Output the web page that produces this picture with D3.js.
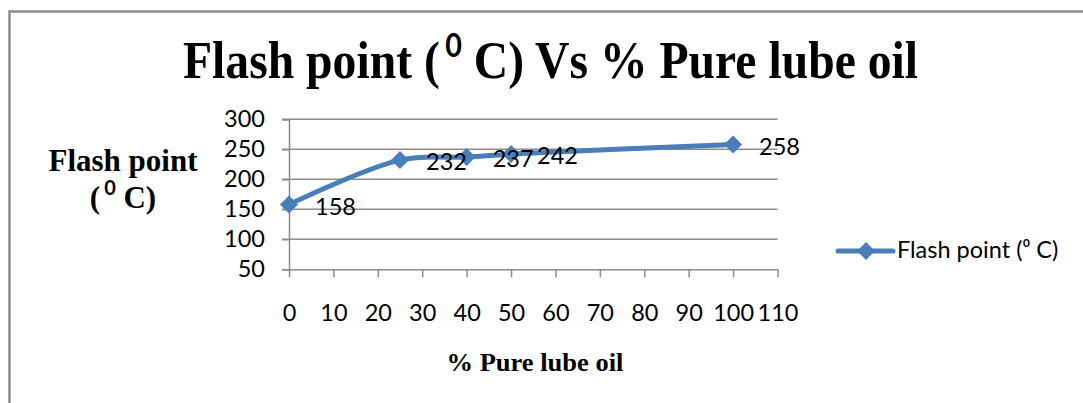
<!DOCTYPE html>
<html><head><meta charset="utf-8">
<script src="https://cdn.jsdelivr.net/npm/d3@7"></script>
<style>html,body{margin:0;padding:0;background:#fff;}svg{display:block;}</style>
</head><body>
<svg id="chart" width="1083" height="403"></svg>
<script>
const xValues = [0, 25, 40, 50, 100];
const flashPoint = [158, 232, 237, 242, 258];
const xTicks = [0, 10, 20, 30, 40, 50, 60, 70, 80, 90, 100, 110];
const yTicks = [50, 100, 150, 200, 250, 300];
const seriesName = "Flash point (\u2070 C)";

const svg = d3.select("#chart");
const blue = "#4a7ebb";
const grid = "#8c8c8c";
const sans = "Lato, 'Open Sans', sans-serif";
const serif = "'Liberation Serif', 'Times New Roman', serif";
const fs = 23.5;

// frame
svg.append("path").attr("d", "M9.5,403 V11.5 H1083").attr("fill", "none")
  .attr("stroke", "#8c8c8c").attr("stroke-width", 2.5);

const x = d3.scaleLinear().domain([0, 110]).range([289, 777.5]);
const y = d3.scaleLinear().domain([50, 300]).range([269.3, 119.3]);

// title
const t = svg.append("text").attr("x", 183).attr("y", 78)
  .attr("font-family", serif).attr("font-weight", "bold").attr("font-size", 53)
  .attr("textLength", 735).attr("lengthAdjust", "spacingAndGlyphs");
t.append("tspan").text("Flash point (");
t.append("tspan").attr("font-family", sans).attr("font-size", 32).attr("dx", 6).attr("dy", -21).text("0");
t.append("tspan").attr("dy", 21).text(" C) Vs % Pure lube oil");

// gridlines
svg.append("g").selectAll("line").data(yTicks.filter(v => v > 50)).join("line")
  .attr("x1", x(0) - 7).attr("x2", x(110)).attr("y1", d => y(d)).attr("y2", d => y(d))
  .attr("stroke", grid).attr("stroke-width", 1.5);

// y axis
const yAxis = svg.append("g").attr("transform", `translate(${x(0)},0)`)
  .call(d3.axisLeft(y).tickValues(yTicks).tickSize(7).tickPadding(17));
yAxis.select(".domain").attr("stroke", grid).attr("stroke-width", 1.5);
yAxis.selectAll(".tick line").attr("stroke", grid).attr("stroke-width", 1.5);
yAxis.selectAll(".tick text").attr("font-family", sans).attr("font-size", fs).attr("fill", "#000");

// x axis
const xAxis = svg.append("g").attr("transform", `translate(0,${y(50)})`)
  .call(d3.axisBottom(x).tickValues(xTicks).tickSize(8).tickPadding(27).tickSizeOuter(0));
xAxis.select(".domain").attr("stroke", grid).attr("stroke-width", 1.5)
  .attr("d", `M${x(0) - 7},0.5H${x(110)}`);
xAxis.selectAll(".tick line").attr("stroke", grid).attr("stroke-width", 1.5);
xAxis.selectAll(".tick text").attr("font-family", sans).attr("font-size", fs).attr("fill", "#000");

// axis titles
svg.append("text").attr("text-anchor", "middle").attr("x", 123).attr("y", 171)
  .attr("font-family", serif).attr("font-weight", "bold").attr("font-size", 31)
  .text("Flash point");
const yt2 = svg.append("text").attr("font-family", serif).attr("font-weight", "bold").attr("font-size", 31)
  .attr("text-anchor", "middle").attr("x", 123).attr("y", 208);
yt2.append("tspan").text("(");
yt2.append("tspan").attr("font-family", sans).attr("font-size", 20).attr("dx", 4).attr("dy", -13).text("0");
yt2.append("tspan").attr("dy", 13).text(" C)");

svg.append("text").attr("x", 535).attr("y", 371).attr("text-anchor", "middle")
  .attr("font-family", serif).attr("font-weight", "bold").attr("font-size", 25)
  .attr("textLength", 177).attr("lengthAdjust", "spacingAndGlyphs")
  .text("% Pure lube oil");

// series
const pts = xValues.map((v, i) => [v, flashPoint[i]]);
const line = d3.line().x(d => x(d[0])).y(d => y(d[1])).curve(d3.curveCatmullRom.alpha(0.5));
svg.append("path").attr("d", line(pts)).attr("fill", "none")
  .attr("stroke", blue).attr("stroke-width", 5).attr("stroke-linejoin", "round");

const diamond = (cx, cy, r) => `M${cx},${cy - r}L${cx + r},${cy}L${cx},${cy + r}L${cx - r},${cy}Z`;
svg.append("g").selectAll("path").data(pts).join("path")
  .attr("d", d => diamond(x(d[0]), y(d[1]), 9)).attr("fill", blue);

svg.append("g").selectAll("text").data(pts).join("text")
  .attr("x", d => x(d[0]) + 26).attr("y", d => y(d[1]) + 10)
  .attr("font-family", sans).attr("font-size", fs).attr("fill", "#000")
  .text(d => d[1]);

// legend
svg.append("line").attr("x1", 838).attr("x2", 893).attr("y1", 251).attr("y2", 251)
  .attr("stroke", blue).attr("stroke-width", 5).attr("stroke-linecap", "round");
svg.append("path").attr("d", diamond(866, 251, 9)).attr("fill", blue);
svg.append("text").attr("x", 897).attr("y", 258)
  .attr("font-family", sans).attr("font-size", fs).attr("fill", "#000")
  .text(seriesName);
</script>
</body></html>
